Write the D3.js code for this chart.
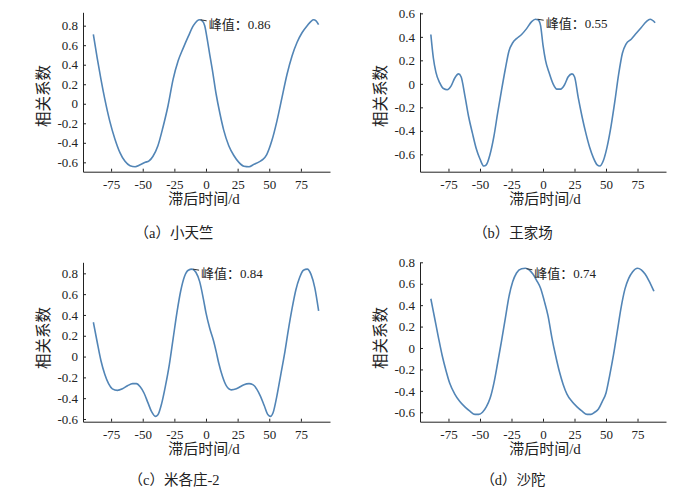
<!DOCTYPE html>
<html>
<head>
<meta charset="utf-8">
<script src="https://cdn.jsdelivr.net/npm/d3@7"></script>
<style>
  html, body { margin: 0; padding: 0; background: #fff; }
  svg { display: block; }
</style>
</head>
<body>
<svg id="chart" width="700" height="492"></svg>
<script>
// ---------- data ----------
const categories = ["小天竺", "王家场", "米各庄-2", "沙陀"];
const letters = ["a", "b", "c", "d"];
const peakValues = [0.86, 0.55, 0.84, 0.74];
const peakLags = [-5, -5, -11, -14];
const peakLabels = ["峰值：0.86", "峰值：0.55", "峰值：0.84", "峰值：0.74"];
const xTitle = "滞后时间/d";
const yTitle = "相关系数";

const xTickValues = [-75, -50, -25, 0, 25, 50, 75];
const xTickLabels = ["-75", "-50", "-25", "0", "25", "50", "75"];
const yTickValuesWide = [-0.6, -0.4, -0.2, 0, 0.2, 0.4, 0.6, 0.8];
const yTickLabelsWide = ["-0.6", "-0.4", "-0.2", "0", "0.2", "0.4", "0.6", "0.8"];
const yTickValuesB = [-0.6, -0.4, -0.2, 0, 0.2, 0.4, 0.6];
const yTickLabelsB = ["-0.6", "-0.4", "-0.2", "0", "0.2", "0.4", "0.6"];

const lagA = [-89,-86,-83,-80,-76,-72,-68,-64,-60,-56,-52,-48,-45,-42,-38,-34,-30,-26,-22,-18,-14,-10,-7,-5,-3,-1,1,3,5,8,11,14,18,22,26,30,34,38,42,45,48,52,56,60,64,68,72,76,80,83,85,87,89];
const corrA = [0.71,0.47,0.25,0.05,-0.18,-0.36,-0.50,-0.59,-0.635,-0.645,-0.625,-0.60,-0.585,-0.54,-0.43,-0.24,-0.02,0.25,0.44,0.57,0.69,0.80,0.85,0.86,0.85,0.80,0.66,0.50,0.35,0.10,-0.10,-0.27,-0.43,-0.53,-0.60,-0.64,-0.645,-0.62,-0.595,-0.57,-0.52,-0.38,-0.18,0.06,0.30,0.49,0.63,0.73,0.80,0.845,0.86,0.85,0.81];

const lagB = [-89,-87,-85,-82,-79,-76,-73,-70,-67,-65,-62,-59,-56,-53,-50,-47,-45,-42,-39,-36,-33,-30,-27,-24,-21,-17,-13,-9,-6,-4,-2,0,2,5,8,11,14,17,20,23,25,28,31,34,37,40,43,45,48,51,54,57,60,63,66,70,74,78,82,85,89];
const corrB = [0.42,0.22,0.10,0.01,-0.04,-0.05,-0.02,0.05,0.085,0.06,-0.10,-0.28,-0.42,-0.55,-0.64,-0.70,-0.69,-0.60,-0.45,-0.25,-0.06,0.12,0.28,0.35,0.385,0.42,0.47,0.53,0.55,0.545,0.50,0.33,0.20,0.09,0.00,-0.045,-0.045,-0.01,0.06,0.085,0.06,-0.12,-0.28,-0.42,-0.54,-0.63,-0.69,-0.70,-0.65,-0.53,-0.36,-0.15,0.08,0.26,0.34,0.38,0.43,0.48,0.53,0.55,0.52];

const lagC = [-89,-86,-83,-80,-77,-74,-70,-66,-62,-58,-55,-52,-49,-46,-43,-40,-38,-35,-32,-29,-26,-23,-20,-17,-14,-11,-8,-5,-2,0,3,6,8,10,13,16,20,24,27,30,34,37,40,43,46,49,51,53,56,59,62,65,68,71,74,77,80,83,86,89];
const corrC = [0.33,0.14,-0.04,-0.17,-0.26,-0.31,-0.325,-0.31,-0.28,-0.26,-0.26,-0.29,-0.35,-0.44,-0.53,-0.575,-0.56,-0.45,-0.28,-0.08,0.17,0.42,0.63,0.77,0.83,0.84,0.81,0.72,0.55,0.42,0.27,0.15,0.05,-0.06,-0.19,-0.28,-0.32,-0.31,-0.29,-0.27,-0.26,-0.27,-0.31,-0.38,-0.47,-0.56,-0.575,-0.54,-0.38,-0.18,0.02,0.25,0.46,0.64,0.76,0.83,0.84,0.79,0.66,0.44];

const lagD = [-89,-86,-83,-80,-77,-74,-70,-66,-62,-58,-54,-51,-48,-45,-42,-39,-36,-33,-30,-27,-24,-21,-17,-14,-11,-8,-5,-2,1,4,7,10,13,16,19,23,27,31,35,38,41,44,47,50,53,56,59,62,65,68,71,75,78,81,84,88];
const corrD = [0.46,0.28,0.10,-0.07,-0.21,-0.33,-0.43,-0.50,-0.55,-0.59,-0.62,-0.62,-0.60,-0.55,-0.47,-0.33,-0.14,0.06,0.27,0.48,0.62,0.70,0.74,0.745,0.73,0.69,0.63,0.56,0.44,0.30,0.10,-0.07,-0.22,-0.34,-0.43,-0.50,-0.55,-0.59,-0.62,-0.62,-0.60,-0.57,-0.50,-0.42,-0.25,-0.06,0.16,0.38,0.55,0.65,0.71,0.745,0.73,0.69,0.63,0.53];

// ---------- layout (positions / styles) ----------
const LINE_COLOR = "#5285b6";
const AXIS_COLOR = "#222";
const SERIF = '"Liberation Serif", "Noto Sans CJK SC"';

const panels = [
  { lag: lagA, corr: corrA, yTicks: yTickValuesWide, yLabels: yTickLabelsWide,
    xDomain: [-97.2, 98], xRange: [83, 330], yDomain: [-0.696, 0.937], yRange: [171.7, 12.3],
    yTitlePos: [43, 96], xTitlePos: [204, 199], captionPos: [174, 233] },
  { lag: lagB, corr: corrB, yTicks: yTickValuesB, yLabels: yTickLabelsB,
    xDomain: [-97.6, 97.6], xRange: [420, 666], yDomain: [-0.748, 0.609], yRange: [171.7, 12.3],
    yTitlePos: [380, 96], xTitlePos: [545, 199], captionPos: [513, 233] },
  { lag: lagC, corr: corrC, yTicks: yTickValuesWide, yLabels: yTickLabelsWide,
    xDomain: [-97.2, 98], xRange: [83, 330], yDomain: [-0.626, 0.906], yRange: [421.7, 262.3],
    yTitlePos: [43, 338], xTitlePos: [204, 449], captionPos: [174, 480] },
  { lag: lagD, corr: corrD, yTicks: yTickValuesWide, yLabels: yTickLabelsWide,
    xDomain: [-97.6, 97.6], xRange: [420, 666], yDomain: [-0.688, 0.8], yRange: [421.7, 262.3],
    yTitlePos: [380, 338], xTitlePos: [545, 449], captionPos: [513, 480] }
];

const svg = d3.select("#chart");
svg.append("rect").attr("width", 700).attr("height", 492).attr("fill", "#fff");

panels.forEach((p, i) => {
  const x = d3.scaleLinear().domain(p.xDomain).range(p.xRange);
  const y = d3.scaleLinear().domain(p.yDomain).range(p.yRange);
  const g = svg.append("g");

  // x axis
  const xAxis = d3.axisBottom(x)
    .tickValues(xTickValues)
    .tickFormat((d, k) => xTickLabels[k])
    .tickSizeInner(-3).tickSizeOuter(0).tickPadding(8);
  const gx = g.append("g").attr("transform", `translate(0,${p.yRange[0]})`).call(xAxis);

  // y axis
  const yAxis = d3.axisLeft(y)
    .tickValues(p.yTicks)
    .tickFormat((d, k) => p.yLabels[k])
    .tickSizeInner(-3).tickSizeOuter(0).tickPadding(5);
  const gy = g.append("g").attr("transform", `translate(${p.xRange[0]},0)`).call(yAxis);

  [gx, gy].forEach(a => {
    a.attr("font-family", null).attr("font-size", null);
    a.select(".domain").attr("stroke", AXIS_COLOR).attr("stroke-width", 1);
    a.selectAll(".tick line").attr("stroke", AXIS_COLOR).attr("stroke-width", 1);
    a.selectAll(".tick text").attr("fill", AXIS_COLOR)
      .style("font-family", SERIF).style("font-size", "13px");
  });

  // curve
  const pts = p.lag.map((l, k) => [l, p.corr[k]]);
  const line = d3.line()
    .x(d => x(d[0])).y(d => y(d[1]))
    .curve(d3.curveMonotoneX);
  g.append("path").datum(pts)
    .attr("d", line)
    .attr("fill", "none")
    .attr("stroke", LINE_COLOR)
    .attr("stroke-width", 1.6)
    .attr("stroke-linejoin", "round");

  // peak annotation
  const px = x(peakLags[i]), py = y(peakValues[i]);
  g.append("line")
    .attr("x1", px + 1).attr("y1", py)
    .attr("x2", px + 7).attr("y2", py + 1)
    .attr("stroke", "#333").attr("stroke-width", 1);
  g.append("text")
    .attr("x", px + 9).attr("y", py + 4.5)
    .attr("dominant-baseline", "central")
    .style("font-family", SERIF).style("font-size", "13px")
    .attr("fill", "#222")
    .text(peakLabels[i]);

  // axis titles
  g.append("text")
    .attr("transform", `translate(${p.yTitlePos[0]},${p.yTitlePos[1]}) rotate(-90)`)
    .attr("text-anchor", "middle").attr("dominant-baseline", "central")
    .style("font-family", SERIF).style("font-size", "15.5px").attr("fill", "#222")
    .text(yTitle);
  g.append("text")
    .attr("x", p.xTitlePos[0]).attr("y", p.xTitlePos[1])
    .attr("text-anchor", "middle").attr("dominant-baseline", "central")
    .style("font-family", SERIF).style("font-size", "15px").attr("fill", "#222")
    .text(xTitle);

  // caption
  g.append("text")
    .attr("x", p.captionPos[0]).attr("y", p.captionPos[1])
    .attr("text-anchor", "middle").attr("dominant-baseline", "central")
    .style("font-family", SERIF).style("font-size", "14.5px").attr("fill", "#222")
    .text(`（${letters[i]}）${categories[i]}`);
});
</script>
</body>
</html>
